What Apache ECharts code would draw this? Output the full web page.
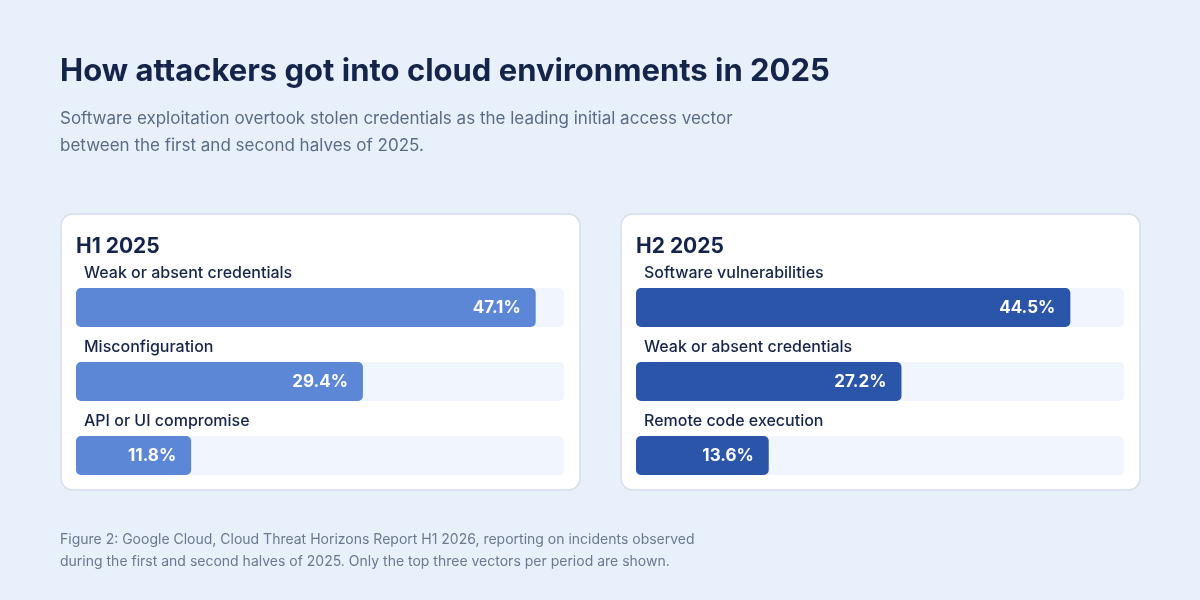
<!DOCTYPE html>
<html><head><meta charset="utf-8">
<script src="https://cdn.jsdelivr.net/npm/echarts@6/dist/echarts.min.js"></script>
<style>html,body{margin:0;background:#e8f0fc}#c{width:1200px;height:600px}</style>
</head><body><div id="c"></div>
<script>
var h1Cats = ['Weak or absent credentials', 'Misconfiguration', 'API or UI compromise'];
var h1Vals = [47.1, 29.4, 11.8];
var h2Cats = ['Software vulnerabilities', 'Weak or absent credentials', 'Remote code execution'];
var h2Vals = [44.5, 27.2, 13.6];

var font = 'Inter, "Noto Sans", sans-serif';
var chart = echarts.init(document.getElementById('c'));

function card(x, title) {
    return [
        {type: 'rect', shape: {x: x, y: 214, width: 519, height: 276, r: 12},
         style: {fill: '#fff', stroke: '#d3def2', lineWidth: 1.5}, z: -10},
        {type: 'text', x: x + 15, y: 236, style: {text: title, font: 'bold 21px ' + font, fill: '#14244a'}}
    ];
}
function grid(left) { return {left: left, top: 270.5, width: 488, height: 222}; }
function xAx(i) { return {gridIndex: i, type: 'value', min: 0, max: 50, show: false}; }
function yAx(i, cats) {
    return {gridIndex: i, type: 'category', data: cats, inverse: true,
        axisLine: {show: false}, axisTick: {show: false},
        axisLabel: {inside: true, verticalAlign: 'bottom', padding: [0, 0, 26, 0],
            color: '#14244a', fontSize: 16, fontFamily: font, fontWeight: 500}};
}
function ser(i, vals, color) {
    return {type: 'bar', xAxisIndex: i, yAxisIndex: i, data: vals, barWidth: 39,
        itemStyle: {color: color, borderRadius: 5},
        showBackground: true, backgroundStyle: {color: '#f0f5fe', borderRadius: 5},
        label: {show: true, position: 'insideRight', distance: 15, color: '#fff',
            fontSize: 17, fontWeight: 'bold', fontFamily: font, formatter: '{c}%'}};
}

chart.setOption({
    backgroundColor: '#e8f0fc',
    animation: false,
    graphic: [
        {type: 'text', x: 60, y: 56, style: {text: 'How attackers got into cloud environments in 2025', font: 'bold 31px ' + font, fill: '#14244a'}},
        {type: 'text', x: 60, y: 105, style: {text: 'Software exploitation overtook stolen credentials as the leading initial access vector\nbetween the first and second halves of 2025.', font: '17px ' + font, fill: '#5a6b85', lineHeight: 27}},
        {type: 'text', x: 60, y: 529, style: {text: 'Figure 2: Google Cloud, Cloud Threat Horizons Report H1 2026, reporting on incidents observed\nduring the first and second halves of 2025. Only the top three vectors per period are shown.', font: '14px ' + font, fill: '#6b7890', lineHeight: 22}}
    ].concat(card(61, 'H1 2025'), card(621, 'H2 2025')),
    grid: [grid(76), grid(636)],
    xAxis: [xAx(0), xAx(1)],
    yAxis: [yAx(0, h1Cats), yAx(1, h2Cats)],
    series: [ser(0, h1Vals, '#5b87d6'), ser(1, h2Vals, '#2a55a8')]
});
</script></body></html>
